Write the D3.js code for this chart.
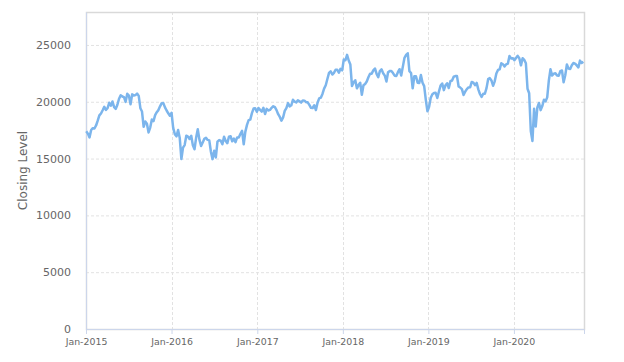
<!DOCTYPE html>
<html>
<head>
<meta charset="utf-8">
<script src="https://cdn.jsdelivr.net/npm/d3@7"></script>
<style>
  body { margin: 0; background: #fff; }
  svg { display: block; font-family: "DejaVu Sans", sans-serif; }
</style>
</head>
<body>
<div id="chart"></div>
<script>
// weekly closes (Friday), first Friday of each year onward
const firstFriday = {
    2015: '2015-01-02', 2016: '2016-01-01', 2017: '2017-01-06',
    2018: '2018-01-05', 2019: '2019-01-04', 2020: '2020-01-03'
};

const closes2015 = [17408, 17198, 16864, 17511, 17674, 17648, 17913, 18332, 18798, 18971,
    19254, 19560, 19286, 19435, 19908, 19653, 20020, 19532, 19379, 19733,
    20264, 20563, 20461, 20407, 19990, 20706, 20540, 19780, 20650, 20544,
    20585, 20724, 20519, 19436, 19136, 17792, 18264, 18070, 17300, 17725,
    18438, 18291, 18825, 19083, 19265, 19597, 19879, 19883, 19504, 19230,
    18986, 18769];

const closes2016 = [19033, 17697, 17147, 16958, 17518, 16819, 14952, 15967, 16188, 17014,
    16938, 16724, 17002, 16164, 15821, 16848, 17572, 16666, 16106, 16412,
    16736, 16834, 16642, 16601, 15599, 14952, 15682, 15106, 16497, 16627,
    16569, 16254, 16919, 16545, 16360, 16925, 16965, 16519, 16754, 16449,
    16860, 16856, 17184, 17446, 16251, 17374, 17968, 18381, 18426, 18996,
    19401, 19428, 19114];

const closes2017 = [19454, 19287, 19137, 19467, 18918, 19378, 19234, 19283, 19469, 19604,
    19521, 19262, 18909, 18664, 18335, 18620, 19196, 19445, 19883, 19590,
    19687, 20177, 20013, 19943, 20132, 20033, 19929, 20118, 20099, 19959,
    19952, 19729, 19470, 19452, 19691, 19274, 19909, 20296, 20356, 20690,
    21155, 21457, 22008, 22539, 22681, 22397, 22550, 22819, 22811, 22553,
    22902, 22764];

const closes2018 = [23714, 23653, 24124, 23631, 23274, 21382, 21720, 21892, 21181, 21469,
    21676, 20617, 21454, 21568, 21778, 22162, 22467, 22472, 22758, 22930,
    22450, 22171, 22694, 22851, 22516, 22304, 21788, 22597, 22697, 22712,
    22525, 22298, 22270, 22601, 22865, 22307, 23094, 23869, 24120, 24270,
    22694, 22532, 21184, 22243, 22250, 21680, 21646, 22351, 21679, 21374,
    20166, 19155];

const closes2019 = [19561, 20360, 20666, 20774, 20788, 20333, 20900, 21426, 21602, 21025,
    21451, 21627, 21206, 21807, 21871, 22200, 22259, 22259, 21345, 21250,
    21117, 20601, 20884, 21117, 21259, 21276, 21746, 21686, 21467, 21658,
    21087, 20685, 20418, 20711, 20704, 21200, 21988, 22079, 21879, 21410,
    21799, 22493, 22800, 22851, 23392, 23303, 23113, 23294, 23354, 24023,
    23817, 23838];

const closes2020 = [23657, 23851, 24041, 23827, 23205, 23828, 23688, 23387, 21143, 20750,
    17431, 16553, 19389, 17820, 19499, 19897, 19262, 19619, 20179, 20037,
    20388, 21878, 22864, 22305, 22478, 22512, 22306, 22291, 22696, 22751,
    21710, 22329, 23289, 22920, 22882, 23205, 23406, 23360, 23204, 23029,
    23619, 23410, 23516];

const closesByYear = {
    2015: closes2015, 2016: closes2016, 2017: closes2017,
    2018: closes2018, 2019: closes2019, 2020: closes2020
};

const yTicks = [0, 5000, 10000, 15000, 20000, 25000];
const xTickYears = [2015, 2016, 2017, 2018, 2019, 2020];

const parseDate = d3.timeParse('%Y-%m-%d');
const series = [];
Object.keys(closesByYear).forEach(year => {
    const start = parseDate(firstFriday[year]);
    closesByYear[year].forEach((v, i) => {
        series.push({ date: d3.timeDay.offset(start, i * 7), value: v });
    });
});

const width = 624, height = 362;
const margin = { top: 12, right: 40, bottom: 33, left: 86 };
const innerW = width - margin.left - margin.right;
const innerH = height - margin.top - margin.bottom;

const svg = d3.select('#chart').append('svg')
    .attr('width', width)
    .attr('height', height);

const x = d3.scaleTime()
    .domain([new Date(2015, 0, 1), new Date(2020, 9, 26)])
    .range([0, innerW]);

const y = d3.scaleLinear()
    .domain([0, 27900])
    .range([innerH, 0]);

const g = svg.append('g')
    .attr('transform', `translate(${margin.left},${margin.top})`);

// grid lines
g.append('g')
    .selectAll('line')
    .data(yTicks.slice(1))
    .join('line')
    .attr('x1', 0).attr('x2', innerW)
    .attr('y1', d => y(d) + 0.5).attr('y2', d => y(d) + 0.5)
    .attr('stroke', '#e2e2e2')
    .attr('stroke-dasharray', '3,2');

const xTicks = xTickYears.map(yr => new Date(yr, 0, 1));
g.append('g')
    .selectAll('line')
    .data(xTicks.slice(1))
    .join('line')
    .attr('x1', d => Math.round(x(d)) + 0.5).attr('x2', d => Math.round(x(d)) + 0.5)
    .attr('y1', 0).attr('y2', innerH)
    .attr('stroke', '#e2e2e2')
    .attr('stroke-dasharray', '3,2');

// plot border (top / right)
g.append('rect')
    .attr('x', 0.5).attr('y', 0.5)
    .attr('width', innerW).attr('height', innerH)
    .attr('fill', 'none')
    .attr('stroke', '#d9d9d9')
    .attr('stroke-width', 1.5);

// x axis
const xAxis = d3.axisBottom(x)
    .tickValues(xTicks)
    .tickFormat(d3.timeFormat('Jan-%Y'))
    .tickSize(5)
    .tickPadding(4);

const gx = g.append('g')
    .attr('transform', `translate(0,${innerH})`)
    .call(xAxis);
gx.select('.domain').attr('stroke', '#ccd6eb');
gx.selectAll('.tick line').attr('stroke', '#ccd6eb');
gx.selectAll('.tick text')
    .attr('fill', '#666')
    .attr('font-size', '9.4px')
    .attr('font-family', '"DejaVu Sans", sans-serif');

// y axis
const yAxis = d3.axisLeft(y)
    .tickValues(yTicks)
    .tickFormat(d3.format('d'))
    .tickSize(0)
    .tickPadding(15);

const gy = g.append('g').call(yAxis);
gy.select('.domain').attr('stroke', '#ccd6eb');
gy.selectAll('.tick text')
    .attr('fill', '#666')
    .attr('font-size', '11px')
    .attr('font-family', '"DejaVu Sans", sans-serif');

// y title
svg.append('text')
    .attr('transform', `translate(27,${margin.top + innerH / 2}) rotate(-90)`)
    .attr('text-anchor', 'middle')
    .attr('fill', '#666')
    .attr('font-size', '12px')
    .text('Closing Level');

// line
const line = d3.line()
    .x(d => x(d.date))
    .y(d => y(d.value));

g.append('path')
    .datum(series)
    .attr('fill', 'none')
    .attr('stroke', '#7cb5ec')
    .attr('stroke-width', 2.5)
    .attr('stroke-linejoin', 'round')
    .attr('d', line);
</script>
</body>
</html>
